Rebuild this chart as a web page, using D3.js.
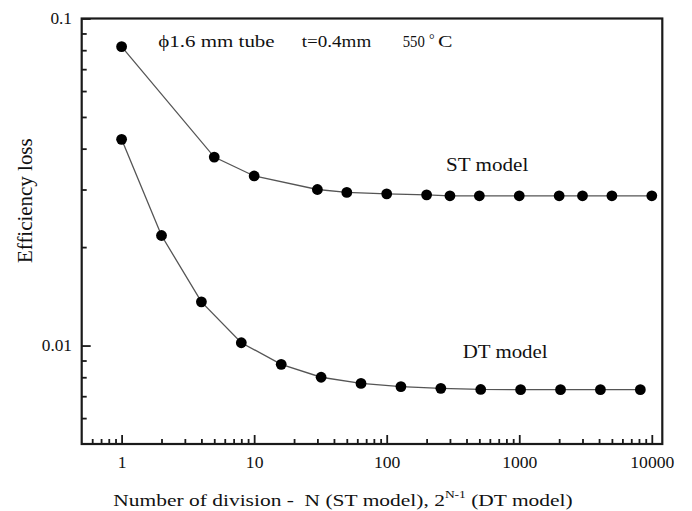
<!DOCTYPE html>
<html>
<head>
<meta charset="utf-8">
<script src="https://cdn.jsdelivr.net/npm/d3@7"></script>
<style>
  html, body { margin: 0; padding: 0; background: #fff; }
  svg { display: block; }
  text { font-family: "Liberation Serif", "Times New Roman", serif; fill: #111; white-space: pre; }
</style>
</head>
<body>
<svg id="chart" width="692" height="511"></svg>
<script>
// Single-tube model: number of divisions N
const stN = [1, 5, 10, 30, 50, 100, 200, 300, 500, 1000, 2000, 3000, 5000, 10000];
const stLoss = [0.0820, 0.0377, 0.0330, 0.0300, 0.0294, 0.0291, 0.0289, 0.0287, 0.0287, 0.0287, 0.0287, 0.0287, 0.0287, 0.0287];

// Double-tube model: 2^(N-1) divisions
const dtN = [1, 2, 4, 8, 16, 32, 64, 128, 256, 512, 1024, 2048, 4096, 8192];
const dtLoss = [0.0427, 0.0217, 0.0136, 0.0102, 0.00876, 0.00800, 0.00766, 0.00749, 0.00740, 0.00734, 0.00733, 0.00733, 0.00733, 0.00733];

const xMajorTicks = [1, 10, 100, 1000, 10000];
const yMajorTicks = [0.01, 0.1];
const yTickLabels = ["0.01", "0.1"];

const svg = d3.select("#chart");
const plot = { left: 81.7, right: 662.3, top: 18.5, bottom: 444 };

const x = d3.scaleLog().domain([0.5, 12000]).range([plot.left, plot.right]);
const y = d3.scaleLog().domain([0.005, 0.1]).range([plot.bottom, plot.top]);

// minor ticks: every integer multiple inside each decade
function minorTicks(lo, hi) {
  const out = [];
  for (let e = Math.floor(Math.log10(lo)); e <= Math.ceil(Math.log10(hi)); e++) {
    for (let m = 2; m <= 9; m++) {
      const v = m * Math.pow(10, e);
      if (v > lo * 1.0001 && v < hi * 0.9999) out.push(v);
    }
  }
  return out;
}

const tickColor = "#1a1a1a";

// x axis, ticks pointing into the plot
const gx = svg.append("g").attr("transform", `translate(0,${plot.bottom})`);
gx.append("g")
  .call(d3.axisBottom(x).tickValues(minorTicks(0.5, 12000)).tickSize(-5).tickFormat(""))
  .call(g => g.select(".domain").remove());
gx.append("g")
  .call(d3.axisBottom(x).tickValues(xMajorTicks).tickSize(-9).tickPadding(13).tickFormat(d3.format("d")))
  .call(g => g.select(".domain").remove())
  .call(g => g.selectAll("text").attr("font-size", 16).attr("transform", "scale(1.1,1)")
    .style("font-family", "'Liberation Serif', serif").attr("fill", "#111"));
gx.selectAll(".tick line").attr("stroke", tickColor).attr("stroke-width", 1.8);

// y axis
const gy = svg.append("g").attr("transform", `translate(${plot.left},0)`);
gy.append("g")
  .call(d3.axisLeft(y).tickValues(minorTicks(0.005, 0.1)).tickSize(-5).tickFormat(""))
  .call(g => g.select(".domain").remove());
gy.append("g")
  .call(d3.axisLeft(y).tickValues(yMajorTicks).tickSize(-9).tickPadding(9)
    .tickFormat((d, i) => yTickLabels[i]))
  .call(g => g.select(".domain").remove())
  .call(g => g.selectAll("text").attr("font-size", 16).attr("transform", "scale(1.08,1)")
    .style("font-family", "'Liberation Serif', serif").attr("fill", "#111"));
gy.selectAll(".tick line").attr("stroke", tickColor).attr("stroke-width", 1.8);

// frame
svg.append("rect")
  .attr("x", plot.left).attr("y", plot.top)
  .attr("width", plot.right - plot.left).attr("height", plot.bottom - plot.top)
  .attr("fill", "none").attr("stroke", "#1a1a1a").attr("stroke-width", 2.2);

// series: straight segments joining the computed points
const line = d3.line().x(d => x(d[0])).y(d => y(d[1]));
const series = [
  d3.zip(stN, stLoss),
  d3.zip(dtN, dtLoss)
];
series.forEach(pts => {
  svg.append("path").datum(pts).attr("d", line)
    .attr("fill", "none").attr("stroke", "#555").attr("stroke-width", 1.3);
  svg.append("g").selectAll("circle").data(pts).join("circle")
    .attr("cx", d => x(d[0])).attr("cy", d => y(d[1])).attr("r", 5.4).attr("fill", "#000");
});

// place a text so its ink spans x0..x1 horizontally, on the given baseline
function placeText(str, x0, x1, baseline, size) {
  const t = svg.append("text").attr("x", 0).attr("y", 0).attr("font-size", size).text(str);
  const b = t.node().getBBox();
  const s = (x1 - x0) / b.width;
  t.attr("transform", `translate(${x0},${baseline}) scale(${s},1) translate(${-b.x},0)`);
  return t;
}

placeText("\u03d51.6 mm tube", 158.3, 275, 47, 17.5);
placeText("t=0.4mm", 301.7, 371.7, 47, 17.5);
placeText("550", 402.7, 425, 47, 17.5);
svg.append("text").attr("x", 429).attr("y", 44).attr("font-size", 14).text("\u00b0");
placeText("C", 438, 452.5, 47, 17.5);

placeText("ST model", 446, 528.3, 170.7, 18);
placeText("DT model", 462.7, 547.7, 358.3, 18);

// x axis title with superscript
{
  const t = svg.append("text").attr("x", 0).attr("y", 0).attr("font-size", 17.5);
  t.append("tspan").text("Number of division -  N (ST model), 2");
  t.append("tspan").attr("font-size", 11).attr("dy", -8.5).text("N-1");
  t.append("tspan").attr("dy", 8.5).text(" (DT model)");
  const b = t.node().getBBox();
  const s = (573 - 113.3) / b.width;
  t.attr("transform", `translate(113.3,506) scale(${s},1) translate(${-b.x},0)`);
}

// y axis title, rotated
{
  const t = svg.append("text").attr("x", 0).attr("y", 0).attr("font-size", 20).text("Efficiency loss");
  const b = t.node().getBBox();
  const s = (263 - 138) / b.width;
  t.attr("transform", `translate(31.5,263) rotate(-90) scale(${s},1) translate(${-b.x},0)`);
}
</script>
</body>
</html>
